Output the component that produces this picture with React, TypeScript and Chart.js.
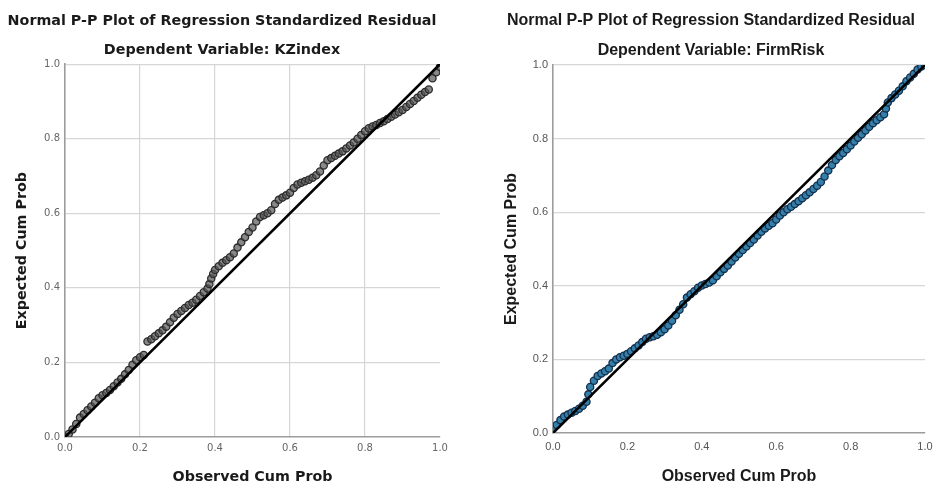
import React, { useEffect, useRef } from 'react';
import { Chart, registerables } from 'chart.js';

Chart.register(...registerables);

// ---------- data ----------
const TITLE = 'Normal P-P Plot of Regression Standardized Residual';
const KZ_SUBTITLE = 'Dependent Variable: KZindex';
const FR_SUBTITLE = 'Dependent Variable: FirmRisk';
const X_LABEL = 'Observed Cum Prob';
const Y_LABEL = 'Expected Cum Prob';
const TICK_VALUES = [0, 0.2, 0.4, 0.6, 0.8, 1.0];
const REF_LINE_X = [0, 1];
const REF_LINE_Y = [0, 1];

const kzObserved = [
  0.00, 0.01, 0.02, 0.03, 0.04, 0.05, 0.06, 0.07, 0.08, 0.09,
  0.10, 0.11, 0.12, 0.13, 0.14, 0.15, 0.16, 0.17, 0.18, 0.19,
  0.20, 0.21, 0.22, 0.23, 0.24, 0.25, 0.26, 0.27, 0.28, 0.29,
  0.30, 0.31, 0.32, 0.33, 0.34, 0.35, 0.36, 0.37, 0.38, 0.385, 0.39,
  0.395, 0.40, 0.41, 0.42, 0.43, 0.44, 0.45, 0.46, 0.47, 0.48, 0.49,
  0.50, 0.51, 0.52, 0.53, 0.54, 0.55, 0.56, 0.57, 0.58, 0.59,
  0.60, 0.61, 0.62, 0.63, 0.64, 0.65, 0.66, 0.67, 0.68, 0.69,
  0.70, 0.71, 0.72, 0.73, 0.74, 0.75, 0.76, 0.77, 0.78, 0.79,
  0.80, 0.81, 0.82, 0.83, 0.84, 0.85, 0.86, 0.87, 0.88, 0.89,
  0.90, 0.91, 0.92, 0.93, 0.94, 0.95, 0.96, 0.97, 0.98, 0.99, 1.00,
];
const kzExpected = [
  0.000, 0.008, 0.020, 0.035, 0.052, 0.062, 0.072, 0.082, 0.092, 0.104,
  0.112, 0.118, 0.126, 0.136, 0.146, 0.156, 0.168, 0.180, 0.194, 0.206,
  0.214, 0.220, 0.256, 0.262, 0.270, 0.278, 0.286, 0.296, 0.308, 0.320,
  0.330, 0.338, 0.346, 0.354, 0.360, 0.368, 0.378, 0.388, 0.398, 0.410, 0.425,
  0.437, 0.448, 0.458, 0.467, 0.474, 0.482, 0.492, 0.508, 0.522, 0.536, 0.550,
  0.562, 0.578, 0.590, 0.595, 0.600, 0.608, 0.625, 0.636, 0.642, 0.648,
  0.655, 0.668, 0.677, 0.682, 0.686, 0.690, 0.695, 0.702, 0.712, 0.728,
  0.742, 0.748, 0.754, 0.760, 0.766, 0.774, 0.782, 0.790, 0.800, 0.810,
  0.820, 0.828, 0.833, 0.837, 0.842, 0.847, 0.853, 0.859, 0.865, 0.871,
  0.877, 0.885, 0.893, 0.901, 0.910, 0.918, 0.925, 0.932, 0.962, 0.978, 0.992,
];

const frObserved = [
  0.00, 0.01, 0.02, 0.03, 0.04, 0.05, 0.06, 0.07, 0.08, 0.09, 0.095,
  0.10, 0.11, 0.12, 0.13, 0.14, 0.15, 0.16, 0.17, 0.18, 0.19,
  0.20, 0.21, 0.22, 0.23, 0.24, 0.25, 0.26, 0.27, 0.28, 0.29,
  0.30, 0.31, 0.32, 0.33, 0.34, 0.35, 0.36, 0.37, 0.38, 0.39,
  0.40, 0.41, 0.42, 0.43, 0.44, 0.45, 0.46, 0.47, 0.48, 0.49,
  0.50, 0.51, 0.52, 0.53, 0.54, 0.55, 0.56, 0.57, 0.58, 0.59,
  0.60, 0.61, 0.62, 0.63, 0.64, 0.65, 0.66, 0.67, 0.68, 0.69,
  0.70, 0.71, 0.72, 0.73, 0.74, 0.75, 0.76, 0.77, 0.78, 0.79,
  0.80, 0.81, 0.82, 0.83, 0.84, 0.85, 0.86, 0.87, 0.88, 0.89, 0.895,
  0.90, 0.91, 0.92, 0.93, 0.94, 0.95, 0.96, 0.97, 0.98, 0.99, 1.00,
];
const frExpected = [
  0.012, 0.022, 0.035, 0.045, 0.050, 0.055, 0.060, 0.066, 0.074, 0.085, 0.105,
  0.125, 0.142, 0.155, 0.162, 0.168, 0.175, 0.190, 0.200, 0.206, 0.210,
  0.215, 0.222, 0.230, 0.238, 0.247, 0.256, 0.260, 0.263, 0.267, 0.274,
  0.282, 0.292, 0.305, 0.320, 0.335, 0.350, 0.368, 0.377, 0.385, 0.395,
  0.401, 0.405, 0.409, 0.415, 0.426, 0.437, 0.446, 0.455, 0.466, 0.477,
  0.487, 0.497, 0.507, 0.516, 0.526, 0.537, 0.547, 0.556, 0.563, 0.570,
  0.580, 0.591, 0.600, 0.608, 0.615, 0.622, 0.630, 0.638, 0.646, 0.654,
  0.663, 0.672, 0.682, 0.697, 0.713, 0.728, 0.742, 0.752, 0.761, 0.771,
  0.781, 0.792, 0.802, 0.812, 0.822, 0.832, 0.842, 0.850, 0.858, 0.866, 0.882,
  0.898, 0.910, 0.920, 0.930, 0.942, 0.956, 0.966, 0.976, 0.988, 0.996, 1.000,
];

// ---------- chart config ----------
type PanelStyle = {
  subtitle: string;
  family: string;
  titleSize: number;
  tickSize: number;
  tickColor: string;
  observed: number[];
  expected: number[];
  pointFill: string;
  pointBorder: string;
  verticalGrid: boolean;
  padding: { left: number; right: number; top: number; bottom: number };
  yAxisWidth: number;
  xAxisHeight: number;
  titlePad: { top: number; bottom: number };
  subtitlePad: { top: number; bottom: number };
  yTitlePadTop: number;
  xTitlePadBottom: number;
  xTickOffset: number;
  yTickPad: number;
};

function makeConfig(s: PanelStyle): any {
  const points = s.observed.map((x, i) => ({ x, y: s.expected[i] }));
  const ref = REF_LINE_X.map((x, i) => ({ x, y: REF_LINE_Y[i] }));
  const fixTicks = (scale: any) => {
    scale.ticks = TICK_VALUES.map((v) => ({ value: v }));
  };
  const fmt = (v: any) => Number(v).toFixed(1);
  const titleFont = { family: s.family, size: s.titleSize, weight: 'bold', lineHeight: 1.2 };
  return {
    type: 'scatter',
    data: {
      datasets: [
        {
          type: 'line',
          label: 'Reference',
          data: ref,
          borderColor: '#000000',
          borderWidth: 2.6,
          pointRadius: 0,
          showLine: true,
          fill: false,
        },
        {
          label: 'Residual',
          data: points,
          pointRadius: 3.6,
          pointBackgroundColor: s.pointFill,
          pointBorderColor: s.pointBorder,
          pointBorderWidth: 1.3,
          backgroundColor: s.pointFill,
          borderColor: s.pointBorder,
        },
      ],
    },
    options: {
      responsive: false,
      animation: false,
      devicePixelRatio: 1,
      layout: { padding: s.padding },
      plugins: {
        legend: { display: false },
        tooltip: { enabled: false },
        title: {
          display: true,
          text: TITLE,
          color: '#1a1a1a',
          font: titleFont,
          padding: s.titlePad,
        },
        subtitle: {
          display: true,
          text: s.subtitle,
          color: '#1a1a1a',
          font: titleFont,
          padding: s.subtitlePad,
        },
      },
      scales: {
        x: {
          type: 'linear',
          min: 0,
          max: 1,
          afterBuildTicks: fixTicks,
          afterFit: (scale: any) => {
            scale.height = s.xAxisHeight;
          },
          ticks: {
            callback: fmt,
            color: s.tickColor,
            font: { family: s.family, size: s.tickSize },
            padding: 0,
            maxRotation: 0,
          },
          grid: {
            display: true,
            drawOnChartArea: s.verticalGrid,
            drawTicks: true,
            tickLength: s.xTickOffset,
            tickColor: 'rgba(0,0,0,0)',
            color: (ctx: any) =>
              ctx.tick && (ctx.tick.value === 1 || ctx.tick.value === 0) ? 'rgba(0,0,0,0)' : '#d6d6d6',
            lineWidth: 1.2,
          },
          border: { display: true, color: '#9c9c9c', width: 1.6 },
          title: {
            display: true,
            text: X_LABEL,
            color: '#1a1a1a',
            font: titleFont,
            padding: { top: 0, bottom: s.xTitlePadBottom },
          },
        },
        y: {
          type: 'linear',
          min: 0,
          max: 1,
          afterBuildTicks: fixTicks,
          afterFit: (scale: any) => {
            scale.width = s.yAxisWidth;
          },
          ticks: {
            callback: fmt,
            color: s.tickColor,
            font: { family: s.family, size: s.tickSize },
            padding: s.yTickPad,
          },
          grid: {
            display: true,
            drawTicks: false,
            color: (ctx: any) => (ctx.tick && ctx.tick.value === 0 ? 'rgba(0,0,0,0)' : '#d6d6d6'),
            lineWidth: 1.2,
          },
          border: { display: true, color: '#9c9c9c', width: 1.6 },
          title: {
            display: true,
            text: Y_LABEL,
            color: '#1a1a1a',
            font: titleFont,
            padding: { top: s.yTitlePadTop, bottom: 0 },
          },
        },
      },
    },
  };
}

const LEFT_STYLE: PanelStyle = {
  subtitle: KZ_SUBTITLE,
  family: "'DejaVu Sans', sans-serif",
  titleSize: 14.3,
  tickSize: 10,
  tickColor: '#666666',
  observed: kzObserved,
  expected: kzExpected,
  pointFill: 'rgba(85,85,85,0.7)',
  pointBorder: '#2c2c2c',
  verticalGrid: true,
  padding: { left: 4, right: 26, top: 0, bottom: 0 },
  yAxisWidth: 61,
  xAxisHeight: 50,
  titlePad: { top: 12.4, bottom: 0 },
  subtitlePad: { top: 11.9, bottom: 5.5 },
  yTitlePadTop: 9.4,
  xTitlePadBottom: 1.4,
  xTickOffset: 5,
  yTickPad: 5,
};

const RIGHT_STYLE: PanelStyle = {
  subtitle: FR_SUBTITLE,
  family: "'Liberation Sans', Arial, sans-serif",
  titleSize: 16,
  tickSize: 11,
  tickColor: '#555555',
  observed: frObserved,
  expected: frExpected,
  pointFill: '#3580aa',
  pointBorder: '#142f4c',
  verticalGrid: false,
  padding: { left: 31, right: 8, top: 0, bottom: 0 },
  yAxisWidth: 56,
  xAxisHeight: 54,
  titlePad: { top: 11.4, bottom: 0 },
  subtitlePad: { top: 10.8, bottom: 4.4 },
  yTitlePadTop: 5.4,
  xTitlePadBottom: 0.4,
  xTickOffset: 7,
  yTickPad: 5,
};

function Panel({ style, left, width }: { style: PanelStyle; left: number; width: number }) {
  const ref = useRef<HTMLCanvasElement | null>(null);
  useEffect(() => {
    if (!ref.current) return;
    const chart = new Chart(ref.current, makeConfig(style));
    return () => chart.destroy();
  }, [style]);
  return (
    <canvas
      ref={ref}
      width={width}
      height={487}
      style={{ position: 'absolute', left, top: 0, width, height: 487, display: 'block' }}
    />
  );
}

export default function App() {
  return (
    <div
      style={{
        position: 'absolute',
        left: 0,
        top: 0,
        width: 933,
        height: 487,
        background: '#ffffff',
        overflow: 'hidden',
      }}
    >
      <Panel style={LEFT_STYLE} left={0} width={466} />
      <Panel style={RIGHT_STYLE} left={466} width={467} />
    </div>
  );
}
